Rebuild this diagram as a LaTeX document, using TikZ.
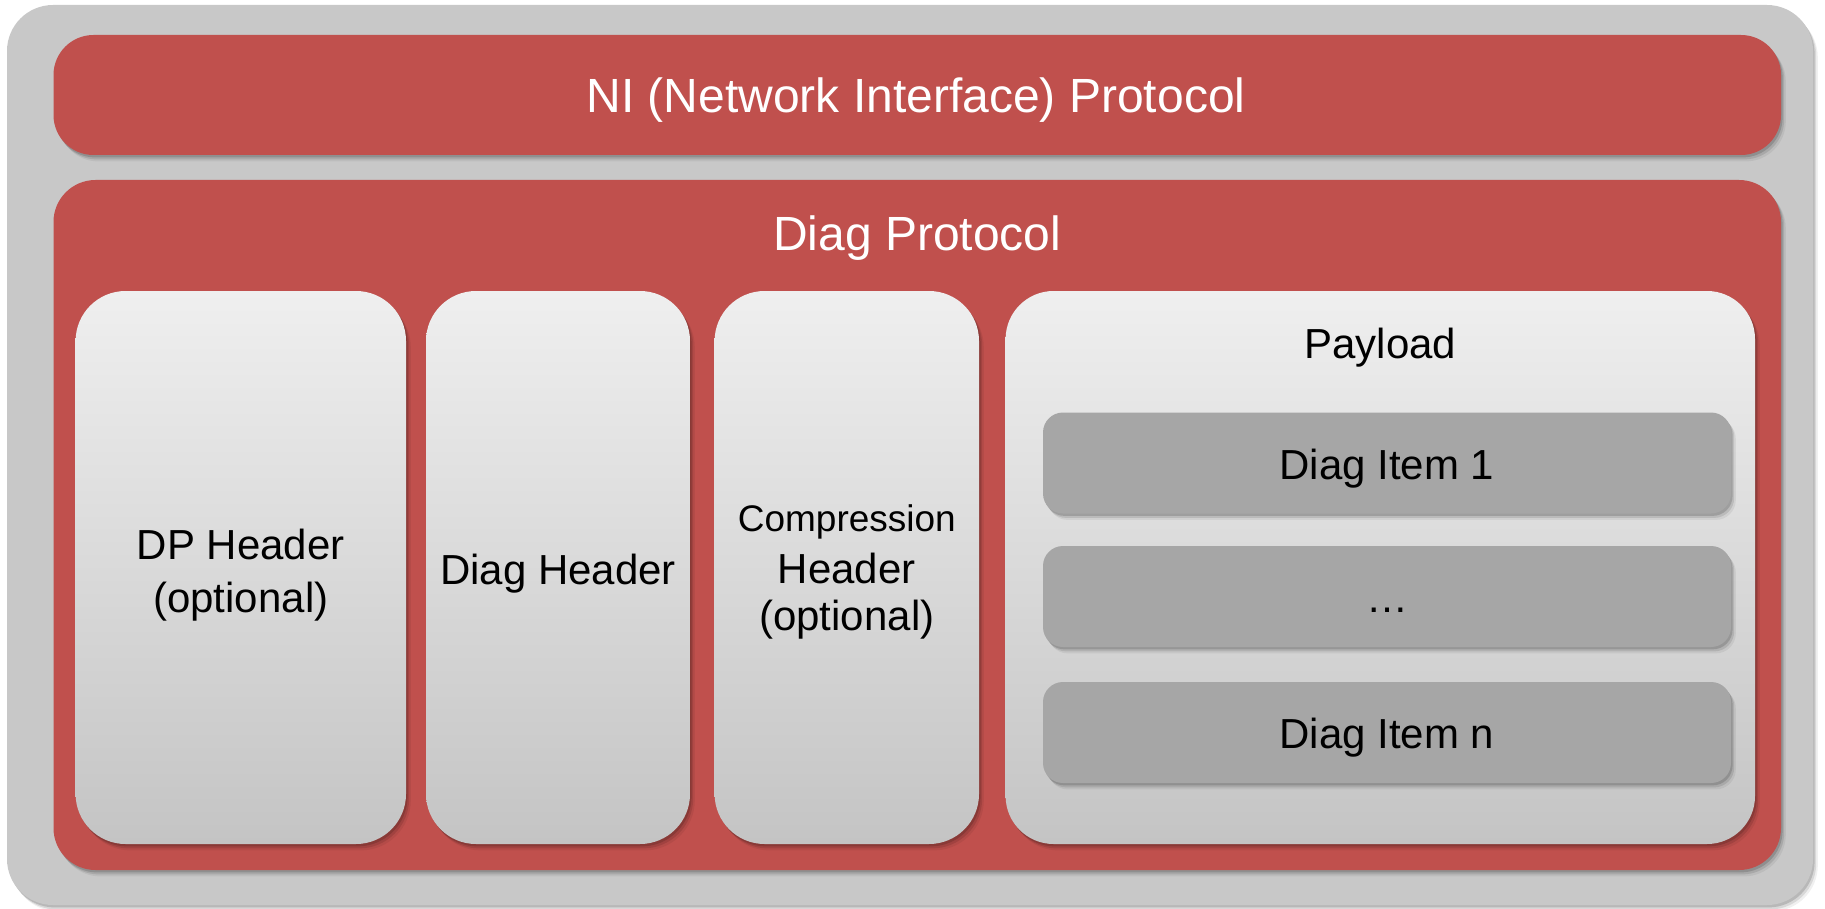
\documentclass[tikz,border=0pt]{standalone}
\usepackage{fontspec}
\setmainfont{Liberation Sans}
\usetikzlibrary{shadows}
\definecolor{bgray}{HTML}{C8C8C8}
\definecolor{ored}{HTML}{C0504D}
\definecolor{itemgray}{HTML}{A6A6A6}
\definecolor{boxtop}{HTML}{EFEFEF}
\definecolor{boxbot}{HTML}{C4C4C4}
\tikzset{
  softshadow/.style={
    general shadow={shadow xshift=0.8pt,shadow yshift=-1.2pt,fill=black,opacity=0.15},
    general shadow={shadow xshift=1.6pt,shadow yshift=-2.2pt,fill=black,opacity=0.10},
    general shadow={shadow xshift=2.4pt,shadow yshift=-3.2pt,fill=black,opacity=0.06}},
  outerbox/.style={rectangle,rounded corners=23pt,fill=bgray,softshadow,inner sep=0pt},
  redbox/.style={rectangle,fill=ored,softshadow,inner sep=0pt},
  lightbox/.style={rectangle,rounded corners=25pt,top color=boxtop,bottom color=boxbot,softshadow,inner sep=0pt,minimum height=276.5pt},
  itembox/.style={rectangle,rounded corners=10pt,fill=itemgray,softshadow,inner sep=0pt,minimum width=344pt,minimum height=50.5pt},
  bigtxt/.style={inner sep=0pt,anchor=base,text=white,font=\fontsize{24}{29}\selectfont},
  txt/.style={inner sep=0pt,anchor=base,font=\fontsize{21}{25}\selectfont},
  smalltxt/.style={inner sep=0pt,anchor=base,font=\fontsize{18.5}{22}\selectfont}
}
\begin{document}
\begin{tikzpicture}[x=0.5pt,y=-0.5pt]
\useasboundingbox (0,0) rectangle (1825,909);
\node[outerbox,minimum width=903pt,minimum height=450pt] (outer) at (910,455) {};
\node[redbox,rounded corners=20pt,minimum width=863.75pt,minimum height=60pt] (ni) at (917.25,95) {};
\node[bigtxt] (nilbl) at (916,113) {NI (Network Interface) Protocol};
\node[redbox,rounded corners=21pt,minimum width=863.75pt,minimum height=345pt] (diag) at (917.25,525) {};
\node[bigtxt] (diaglbl) at (917.25,251) {Diag Protocol};
\node[lightbox,minimum width=165.2pt] (dp) at (240.8,567.5) {};
\node[txt] (dpa) at (240.8,559) {DP Header};
\node[txt] (dpb) at (240.8,612) {(optional)};
\node[lightbox,minimum width=132pt] (dh) at (558,567.5) {};
\node[txt] (dha) at (558,584) {Diag Header};
\node[lightbox,minimum width=132.2pt] (ch) at (846.8,567.5) {};
\node[smalltxt] (cha) at (846.8,531) {Compression};
\node[txt] (chb) at (846.8,583) {Header};
\node[txt] (chc) at (846.8,630) {(optional)};
\node[lightbox,rounded corners=24pt,minimum width=374.7pt] (pl) at (1380.3,567.5) {};
\node[txt] (pllbl) at (1380.3,358) {Payload};
\node[itembox] (i1) at (1387,463) {};
\node[txt] (i1lbl) at (1387,479) {Diag Item 1};
\node[itembox] (i2) at (1387,596.5) {};
\node[txt] (i2lbl) at (1387,612) {\dots};
\node[itembox] (i3) at (1387,732.5) {};
\node[txt] (i3lbl) at (1387,748.5) {Diag Item n};
\end{tikzpicture}
\end{document}
